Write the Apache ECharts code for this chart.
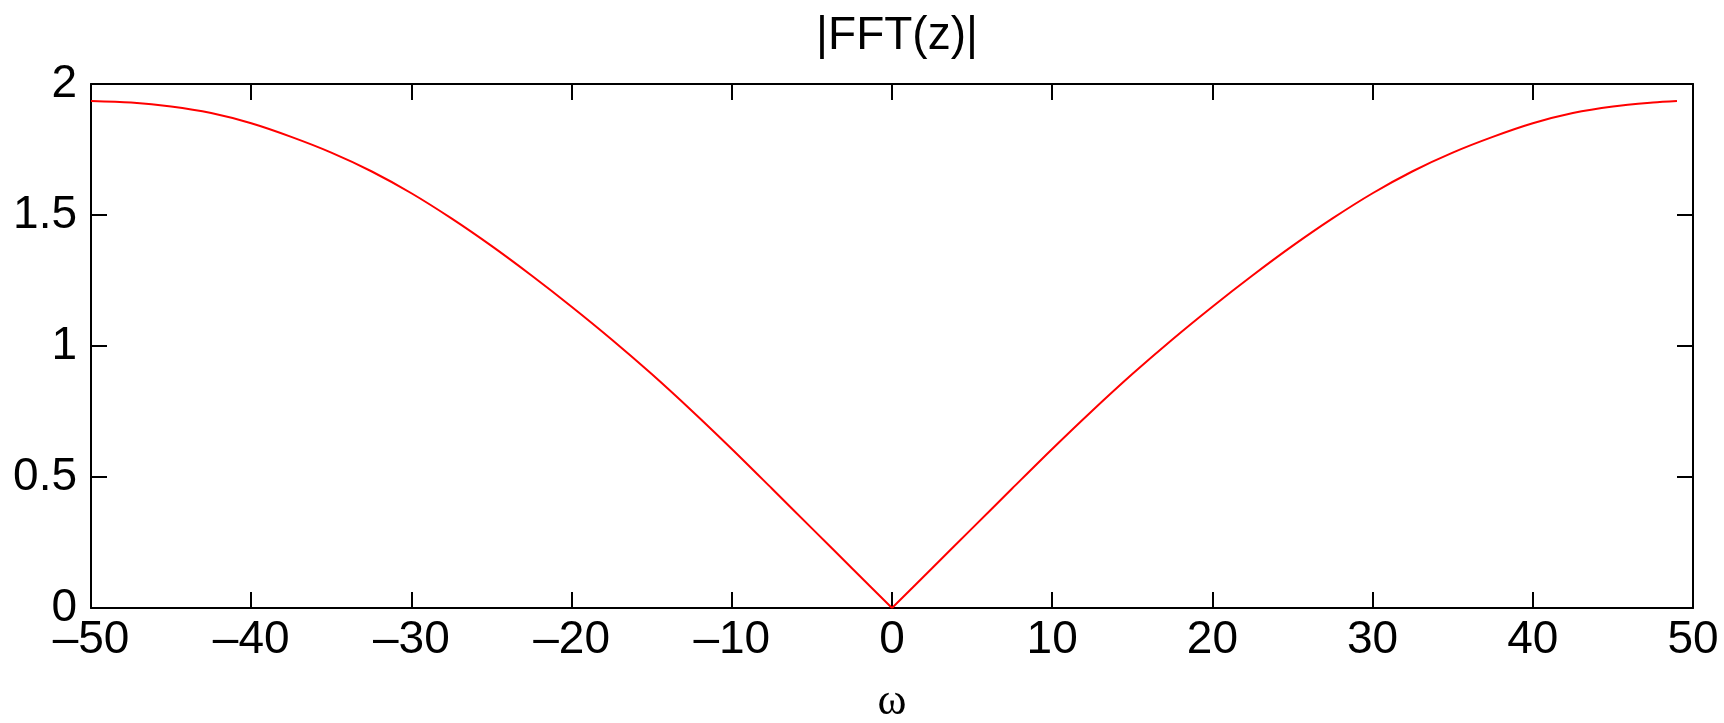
<!DOCTYPE html>
<html>
<head>
<meta charset="utf-8">
<script src="https://cdn.jsdelivr.net/npm/echarts@6/dist/echarts.min.js"></script>
<style>
html,body{margin:0;padding:0;background:#fff;}
#chart{width:1724px;height:723px;}
</style>
</head>
<body>
<div id="chart"></div>
<script>
// Frequency axis values (ω) and magnitude |FFT(z)|
const omegaNeg = [-50, -47.5, -45, -42.5, -40, -37.5, -35, -32.5, -30, -27.5, -25, -22.5, -20, -17.5, -15, -12.5, -10, -7.5, -5, -2.5, 0];
const magNeg = [1.935, 1.929, 1.914, 1.889, 1.850, 1.798, 1.738, 1.667, 1.583, 1.487, 1.382, 1.269, 1.150, 1.025, 0.893, 0.753, 0.607, 0.456, 0.304, 0.152, 0];
const omegaPos = [0, 2.5, 5, 7.5, 10, 12.5, 15, 17.5, 20, 22.5, 25, 27.5, 30, 32.5, 35, 37.5, 40, 42.5, 45, 47.5, 49];
const magPos = [0, 0.152, 0.304, 0.456, 0.607, 0.753, 0.893, 1.025, 1.150, 1.269, 1.382, 1.487, 1.583, 1.667, 1.738, 1.798, 1.850, 1.889, 1.914, 1.929, 1.935];
const xTicks = [-50, -40, -30, -20, -10, 0, 10, 20, 30, 40, 50];
const yTicks = [0, 0.5, 1, 1.5, 2];
const titleText = '|FFT(z)|';
const xLabel = 'ω';

const fmt = v => (v < 0 ? '\u2013' + Math.abs(v) : String(v));
const font = 'Liberation Sans';
const FS = 46;
const axisLine = {show: true, onZero: false, lineStyle: {color: '#000', width: 2}};
const tickStyle = {show: true, inside: true, length: 16, lineStyle: {color: '#000', width: 2}};
const lineStyle = {color: '#ff0000', width: 2};

const chart = echarts.init(document.getElementById('chart'), null, {renderer: 'canvas'});
chart.setOption({
  backgroundColor: '#fff',
  animation: false,
  title: {
    text: titleText, left: 892, top: 8, textAlign: 'center',
    textStyle: {fontFamily: font, fontSize: FS, fontWeight: 'normal', color: '#000'}
  },
  grid: {left: 91, right: 31, top: 84, bottom: 115, containLabel: false, outerBoundsMode: 'none'},
  xAxis: [{
    type: 'value', min: -50, max: 50, interval: 10, position: 'bottom',
    axisLine: axisLine, axisTick: tickStyle, splitLine: {show: false},
    axisLabel: {formatter: fmt, fontFamily: font, fontSize: FS, color: '#000', margin: 9,
      customValues: xTicks},
    name: xLabel, nameLocation: 'middle', nameGap: 72,
    nameTextStyle: {fontFamily: 'Liberation Serif', fontSize: 44, color: '#000'}
  }, {
    type: 'value', min: -50, max: 50, interval: 10, position: 'top',
    axisLine: axisLine, axisTick: tickStyle, splitLine: {show: false},
    axisLabel: {show: false}
  }],
  yAxis: [{
    type: 'value', min: 0, max: 2, interval: 0.5, position: 'left',
    axisLine: axisLine, axisTick: tickStyle, splitLine: {show: false},
    axisLabel: {formatter: fmt, fontFamily: font, fontSize: FS, color: '#000', margin: 14,
      customValues: yTicks}
  }, {
    type: 'value', min: 0, max: 2, interval: 0.5, position: 'right',
    axisLine: axisLine, axisTick: tickStyle, splitLine: {show: false},
    axisLabel: {show: false}
  }],
  series: [{
    type: 'line',
    data: omegaNeg.map((w, i) => [w, magNeg[i]]),
    smooth: 0.3, showSymbol: false, symbol: 'none',
    lineStyle: lineStyle, z: 1
  }, {
    type: 'line',
    data: omegaPos.map((w, i) => [w, magPos[i]]),
    smooth: 0.3, showSymbol: false, symbol: 'none',
    lineStyle: lineStyle, z: 1
  }]
});
</script>
</body>
</html>
